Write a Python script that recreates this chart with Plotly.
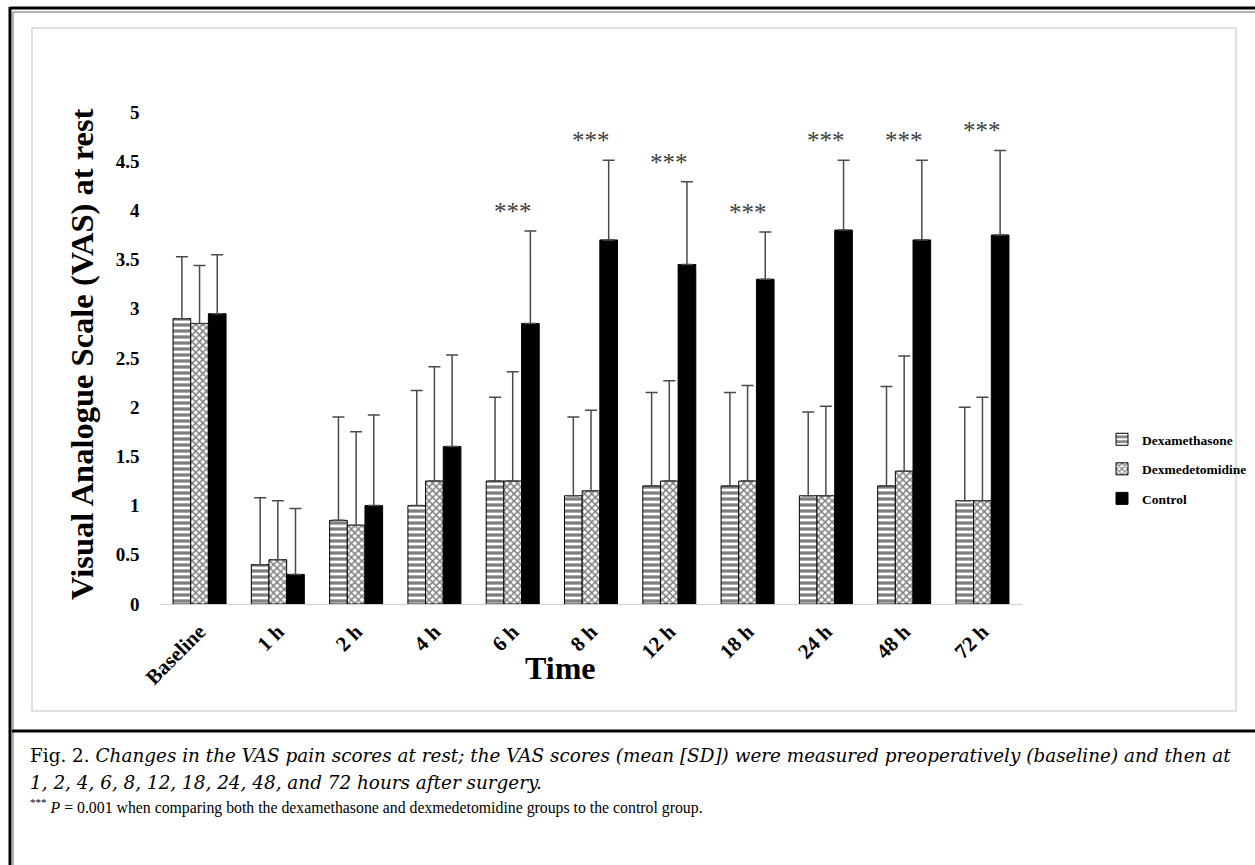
import plotly.graph_objects as go

W, H = 1255, 865

categories = ["Baseline", "1 h", "2 h", "4 h", "6 h", "8 h", "12 h", "18 h", "24 h", "48 h", "72 h"]
dexa_mean = [2.90, 0.40, 0.85, 1.00, 1.25, 1.10, 1.20, 1.20, 1.10, 1.20, 1.05]
dexa_sd   = [0.63, 0.68, 1.05, 1.17, 0.85, 0.80, 0.95, 0.95, 0.85, 1.01, 0.95]
dexm_mean = [2.85, 0.45, 0.80, 1.25, 1.25, 1.15, 1.25, 1.25, 1.10, 1.35, 1.05]
dexm_sd   = [0.59, 0.60, 0.95, 1.16, 1.11, 0.82, 1.02, 0.97, 0.91, 1.17, 1.05]
ctrl_mean = [2.95, 0.30, 1.00, 1.60, 2.85, 3.70, 3.45, 3.30, 3.80, 3.70, 3.75]
ctrl_sd   = [0.60, 0.67, 0.92, 0.93, 0.94, 0.81, 0.84, 0.48, 0.71, 0.81, 0.86]
significant = [False, False, False, False, True, True, True, True, True, True, True]
y_ticks = [0, 0.5, 1, 1.5, 2, 2.5, 3, 3.5, 4, 4.5, 5]

SERIF = "Liberation Serif, Times New Roman, serif"
CAP = "DejaVu Serif, serif"


def px_x(x):
    return x / W


def px_y(y):
    return 1 - y / H


def err(sd):
    return dict(type="data", symmetric=False, array=sd, arrayminus=[0] * len(sd),
                color="#4a4a4a", thickness=1.5, width=6)


fig = go.Figure()
fig.add_trace(go.Bar(
    name="<b>Dexamethasone</b>", x=categories, y=dexa_mean, error_y=err(dexa_sd),
    marker=dict(color="white", line=dict(color="black", width=1),
                pattern=dict(shape="-", fgcolor="black", bgcolor="white", size=6, solidity=0.55)),
    legendgroup="a",
))
fig.add_trace(go.Bar(
    name="<b>Dexmedetomidine</b>", x=categories, y=dexm_mean, error_y=err(dexm_sd),
    marker=dict(color="white", line=dict(color="black", width=1),
                pattern=dict(shape="x", fgcolor="black", bgcolor="white", size=5, solidity=0.5)),
    legendgroup="b",
))
fig.add_trace(go.Bar(
    name="<b>Control</b>", x=categories, y=ctrl_mean, error_y=err(ctrl_sd),
    marker=dict(color="black", line=dict(color="black", width=1)),
    legendgroup="c",
))

annotations = []
for c, m, s, sig in zip(categories, ctrl_mean, ctrl_sd, significant):
    if sig:
        annotations.append(dict(x=c, y=m + s + 0.2, xref="x", yref="y", text="***",
                                showarrow=False, yanchor="middle",
                                font=dict(family=SERIF, size=25, color="#404040")))

# axis titles
annotations.append(dict(x=px_x(62), y=px_y(354), xref="paper", yref="paper",
                        text="<b>Visual Analogue Scale (VAS) at rest</b>", textangle=-90,
                        showarrow=False, font=dict(family=SERIF, size=32.5, color="black")))
annotations.append(dict(x=px_x(560), y=px_y(688), xref="paper", yref="paper",
                        text="<b>Time</b>", showarrow=False,
                        font=dict(family=SERIF, size=32, color="black")))

# caption
annotations.append(dict(x=px_x(28), y=px_y(768), xref="paper", yref="paper", xanchor="left",
                        text="Fig. 2. <i>Changes in the VAS pain scores at rest; the VAS scores (mean [SD]) were measured preoperatively (baseline) and then at</i>",
                        showarrow=False, font=dict(family=CAP, size=18.4, color="black")))
annotations.append(dict(x=px_x(28), y=px_y(795), xref="paper", yref="paper", xanchor="left",
                        text="<i>1, 2, 4, 6, 8, 12, 18, 24, 48, and 72 hours after surgery.</i>",
                        showarrow=False, font=dict(family=CAP, size=18.4, color="black")))
annotations.append(dict(x=px_x(28), y=px_y(819), xref="paper", yref="paper", xanchor="left",
                        text="<sup>***</sup> <i>P</i> = 0.001 when comparing both the dexamethasone and dexmedetomidine groups to the control group.",
                        showarrow=False, font=dict(family=SERIF, size=15.8, color="black")))

shapes = [
    # outer double frame
    dict(type="line", xref="paper", yref="paper", x0=px_x(10), x1=1, y0=px_y(8), y1=px_y(8),
         line=dict(color="black", width=3)),
    dict(type="line", xref="paper", yref="paper", x0=px_x(13), x1=1, y0=px_y(12), y1=px_y(12),
         line=dict(color="#666666", width=1)),
    dict(type="line", xref="paper", yref="paper", x0=px_x(10), x1=px_x(10), y0=px_y(7), y1=0,
         line=dict(color="black", width=3)),
    dict(type="line", xref="paper", yref="paper", x0=px_x(13), x1=px_x(13), y0=px_y(12), y1=0,
         line=dict(color="#666666", width=1)),
    # separator
    dict(type="line", xref="paper", yref="paper", x0=px_x(12), x1=1, y0=px_y(731), y1=px_y(731),
         line=dict(color="black", width=3)),
    # inner chart box
    dict(type="rect", xref="paper", yref="paper", x0=px_x(32), x1=px_x(1236), y0=px_y(711), y1=px_y(28),
         line=dict(color="#d6d6d6", width=1.5)),
]

fig.update_layout(
    width=W, height=H,
    margin=dict(l=0, r=0, t=0, b=0, pad=0, autoexpand=False),
    paper_bgcolor="white", plot_bgcolor="white",
    barmode="group", bargap=0.323, bargroupgap=0,
    showlegend=True,
    legend=dict(x=px_x(1102), y=px_y(424), xanchor="left", yanchor="top",
                font=dict(family=SERIF, size=13.5, color="black"),
                bgcolor="rgba(0,0,0,0)", tracegroupgap=9, itemwidth=30,
                traceorder="grouped"),
    xaxis=dict(domain=[px_x(160.4), px_x(1021.6)], tickangle=-45, showline=True,
               linecolor="#d0d0d0", linewidth=1, ticks="", automargin=False,
               tickvals=categories, ticktext=[f"<b>{c}</b>" for c in categories],
               ticklabelstandoff=6,
               tickfont=dict(family=SERIF, size=21, color="black"),
               showgrid=False, zeroline=False),
    yaxis=dict(domain=[px_y(604), px_y(112)], range=[0, 5], tickvals=y_ticks,
               ticktext=[f"<b>{v:g}</b>" for v in y_ticks], automargin=False,
               showline=False, showgrid=False, zeroline=False, ticks="",
               ticklabelstandoff=20,
               tickfont=dict(family=SERIF, size=19, color="black")),
    annotations=annotations,
    shapes=shapes,
)

fig.write_html("out.html", config={"displayModeBar": False},
               post_script="document.body.style.margin='0';document.body.style.overflow='hidden';")
